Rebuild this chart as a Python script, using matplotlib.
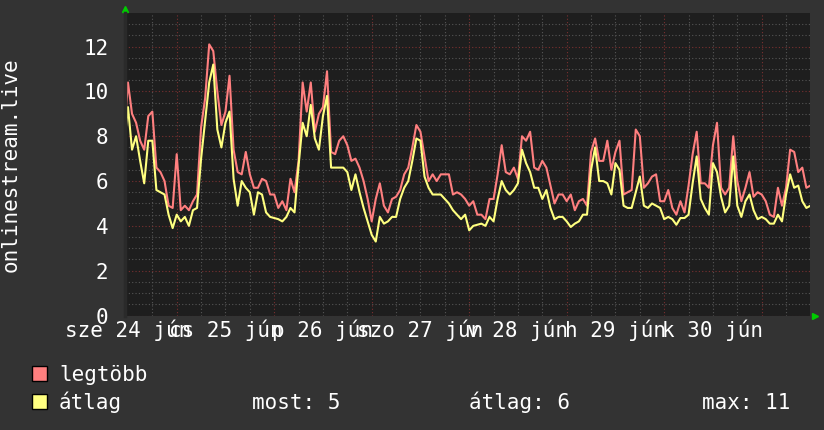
import numpy as np
import matplotlib
matplotlib.use("Agg")
import matplotlib.pyplot as plt
from matplotlib.patches import Rectangle

# ora, jún 24 00:00-tól számolva, óránként egy minta
start_ora = 11

legtobb = [8.0, 10.4, 9.0, 8.6, 7.8, 7.4, 8.9, 9.1, 6.6, 6.4, 6.0, 4.9, 4.8, 7.2, 4.7, 4.9,
           4.7, 5.1, 5.4, 8.4, 9.7, 12.1, 11.8, 10.0, 8.5, 9.1, 10.7, 7.4, 6.4, 6.3, 7.3, 6.3,
           5.7, 5.7, 6.1, 6.0, 5.4, 5.4, 4.8, 5.1, 4.7, 6.1, 5.5, 6.9, 10.4, 9.1, 10.4, 8.2,
           9.0, 9.3, 10.9, 7.3, 7.2, 7.8, 8.0, 7.6, 6.9, 7.0, 6.6, 6.0, 5.2, 4.2, 5.2, 5.9,
           4.9, 4.6, 5.2, 5.3, 5.6, 6.3, 6.6, 7.5, 8.5, 8.2, 7.1, 6.0, 6.3, 6.0, 6.3, 6.3,
           6.3, 5.4, 5.5, 5.4, 5.2, 4.9, 5.1, 4.5, 4.5, 4.3, 5.2, 5.2, 6.3, 7.6, 6.4, 6.3,
           6.6, 6.1, 8.0, 7.8, 8.2, 6.6, 6.5, 6.9, 6.6, 5.8, 5.0, 5.4, 5.4, 5.1, 5.4, 4.7,
           5.1, 5.2, 4.9, 7.3, 7.9, 6.9, 6.9, 7.8, 6.5, 7.3, 7.8, 5.4, 5.5, 5.6, 8.3, 8.0,
           5.7, 5.9, 6.2, 6.3, 5.1, 5.1, 5.6, 4.8, 4.5, 5.1, 4.6, 5.8, 7.2, 8.2, 5.9, 5.9,
           5.7, 7.6, 8.6, 5.7, 5.4, 5.7, 8.0, 6.0, 5.1, 5.7, 6.4, 5.3, 5.5, 5.4, 5.1, 4.5,
           4.4, 5.7, 4.9, 5.7, 7.4, 7.3, 6.4, 6.6, 5.7, 5.8]

atlag = [7.5, 9.3, 7.4, 8.0, 6.9, 5.9, 7.8, 7.8, 5.6, 5.5, 5.4, 4.5, 3.9, 4.5, 4.2, 4.4,
         4.0, 4.7, 4.8, 7.0, 8.7, 10.4, 11.2, 8.3, 7.5, 8.6, 9.1, 6.1, 4.9, 6.0, 5.7, 5.5,
         4.5, 5.5, 5.4, 4.6, 4.4, 4.35, 4.3, 4.2, 4.4, 4.8, 4.6, 6.7, 8.6, 8.0, 9.4, 7.9,
         7.4, 8.9, 9.8, 6.6, 6.6, 6.6, 6.6, 6.4, 5.6, 6.3, 5.5, 4.8, 4.2, 3.6, 3.3, 4.4,
         4.1, 4.2, 4.4, 4.4, 5.2, 5.7, 6.0, 6.9, 7.9, 7.8, 6.2, 5.7, 5.4, 5.4, 5.4, 5.2,
         5.0, 4.7, 4.5, 4.3, 4.5, 3.8, 4.0, 4.05, 4.1, 4.0, 4.4, 4.2, 5.2, 6.0, 5.6, 5.4,
         5.6, 5.9, 7.4, 6.8, 6.4, 5.7, 5.7, 5.2, 5.6, 4.8, 4.3, 4.4, 4.4, 4.2, 3.95, 4.1,
         4.2, 4.5, 4.5, 6.5, 7.5, 6.0, 6.0, 5.9, 5.4, 6.8, 6.5, 4.9, 4.8, 4.8, 5.5, 6.2,
         4.9, 4.8, 5.0, 4.9, 4.8, 4.3, 4.4, 4.3, 4.05, 4.35, 4.35, 4.5, 5.9, 7.1, 5.2, 4.8,
         4.5, 6.8, 6.4, 5.3, 4.6, 4.9, 7.1, 4.9, 4.4, 5.1, 5.4, 4.7, 4.3, 4.4, 4.3, 4.1,
         4.1, 4.5, 4.2, 5.4, 6.3, 5.7, 5.8, 5.1, 4.8, 4.9]

orak = np.arange(start_ora, start_ora + len(legtobb))

nap_feliratok = ["sze 24 jún", "cs 25 jún", "p 26 jún", "szo 27 jún",
                 "v 28 jún", "h 29 jún", "k 30 jún"]
nap_orak = [12, 36, 60, 84, 108, 132, 156]
y_ertekek = [0, 2, 4, 6, 8, 10, 12]

W, H = 824, 430
def fx(px):
    return px / W
def fy(py):
    return 1 - py / H

HATTER = "#333333"
VASZON = "#1e1e1e"
BETU = "DejaVu Sans Mono"
MERET = 15

fig = plt.figure(figsize=(W / 100, H / 100), dpi=100, facecolor=HATTER)
ax = fig.add_axes([fx(125), fy(315.5), fx(809.5) - fx(125), fy(13) - fy(315.5)])
ax.set_facecolor(VASZON)

ax.plot(orak, legtobb, color="#ff7f7f", lw=1.5)
ax.plot(orak, atlag, color="#ffff80", lw=1.5)

ax.set_xlim(11.27, 179.77)
ax.set_ylim(0, 13.5)

ax.set_xticks(np.arange(24, 180, 24))
ax.set_xticks(np.arange(18, 180, 6), minor=True)
ax.set_yticks(y_ertekek)
ax.set_yticks(np.arange(0.5, 13.5, 0.5), minor=True)
ax.set_axisbelow(True)
ax.grid(which="minor", color="#555555", ls=(0, (1, 2)), lw=0.8)
ax.grid(which="major", color="#7a3030", ls=(0, (1, 2)), lw=0.8)

ax.tick_params(which="both", length=0)
ax.tick_params(axis="x", labelbottom=False)
ax.tick_params(axis="y", labelsize=MERET, labelcolor="white", pad=12)
for t in ax.get_yticklabels():
    t.set_family(BETU)

for s in ax.spines.values():
    s.set_visible(False)
ax.spines["left"].set_visible(True)
ax.spines["left"].set_color("#2a2a2a")
ax.spines["left"].set_linewidth(2.5)

# napok feliratai délben
for ora, szoveg in zip(nap_orak, nap_feliratok):
    ax.text(ora, -(337 - 315.5) / 302.5, szoveg, transform=ax.get_xaxis_transform(),
            ha="center", va="baseline", color="white", family=BETU, fontsize=MERET)

# zöld nyilak
ax.plot([0], [1.013], marker="^", color="#00cc00", ms=4, transform=ax.transAxes, clip_on=False)
ax.plot([1.008], [0], marker=">", color="#00cc00", ms=4, transform=ax.transAxes, clip_on=False)

fig.text(fx(11), fy(165), "onlinestream.live", rotation=90, ha="center", va="center",
         color="white", family=BETU, fontsize=MERET)

# jelmagyarázat
fig.add_artist(Rectangle((fx(32), fy(381)), fx(15), 15 / H, transform=fig.transFigure,
                         fc="#ff7f7f", ec="black", lw=1))
fig.add_artist(Rectangle((fx(32), fy(409)), fx(15), 15 / H, transform=fig.transFigure,
                         fc="#ffff80", ec="black", lw=1))
fig.text(fx(59), fy(381), "legtöbb", va="baseline", color="white", family=BETU, fontsize=MERET)
fig.text(fx(59), fy(409), "átlag", va="baseline", color="white", family=BETU, fontsize=MERET)
fig.text(fx(252), fy(409), "most: 5", va="baseline", color="white", family=BETU, fontsize=MERET)
fig.text(fx(469), fy(409), "átlag: 6", va="baseline", color="white", family=BETU, fontsize=MERET)
fig.text(fx(702), fy(409), "max: 11", va="baseline", color="white", family=BETU, fontsize=MERET)

fig.savefig("out.png", dpi=100, facecolor=HATTER)
